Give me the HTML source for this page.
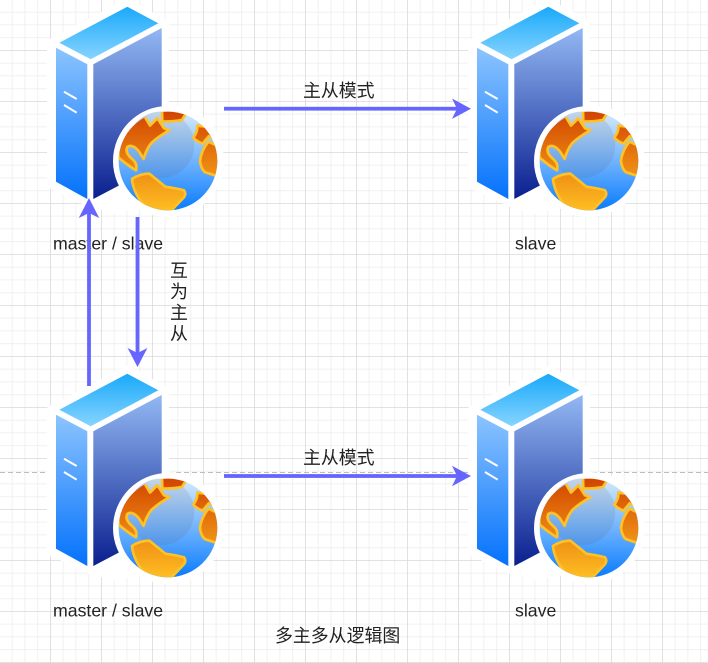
<!DOCTYPE html>
<html><head><meta charset="utf-8">
<style>
html,body{margin:0;padding:0;background:#fff}
body{width:708px;height:663px;overflow:hidden}
svg{display:block}
text{font-family:"Liberation Sans","Noto Sans CJK SC",sans-serif;font-size:17.7px;fill:#222}
text.c{font-size:17.9px}
</style></head>
<body>
<svg width="708" height="663" viewBox="0 0 708 663" xmlns="http://www.w3.org/2000/svg">
<defs>
<pattern id="minor" width="12.75" height="12.75" patternUnits="userSpaceOnUse" x="50" y="50">
  <path d="M12.75 0H0V12.75" fill="none" stroke="#ececec" stroke-width="1.5"/>
</pattern>
<pattern id="major" width="51" height="51" patternUnits="userSpaceOnUse" x="50" y="50">
  <path d="M51 0H0V51" fill="none" stroke="#d6d6d6" stroke-width="1.3"/>
</pattern>
<linearGradient id="gTop" x1="0" y1="0" x2="0" y2="1"><stop offset="0" stop-color="#1aa9fa"/><stop offset="1" stop-color="#86d4ff"/></linearGradient>
<linearGradient id="gLeft" x1="0" y1="0" x2="0" y2="1"><stop offset="0" stop-color="#8cc4ff"/><stop offset="1" stop-color="#0472fb"/></linearGradient>
<linearGradient id="gRight" x1="0" y1="0" x2="0" y2="1"><stop offset="0" stop-color="#93b8f3"/><stop offset="1" stop-color="#0a1f8f"/></linearGradient>
<linearGradient id="gOcean" x1="0" y1="0" x2="0" y2="1"><stop offset="0" stop-color="#d6ebfb"/><stop offset="1" stop-color="#0a7cff"/></linearGradient>
<linearGradient id="gInner" x1="0" y1="0" x2="0" y2="1"><stop offset="0" stop-color="#c4d6e8"/><stop offset="1" stop-color="#4f96ea"/></linearGradient>
<linearGradient id="gLand" gradientUnits="userSpaceOnUse" x1="0" y1="10" x2="0" y2="307"><stop offset="0" stop-color="#d24400"/><stop offset="1" stop-color="#ffbe22"/></linearGradient>
<clipPath id="cg"><circle cx="158" cy="158" r="148"/></clipPath>
<g id="srv">
  <path d="M127.3 2 L166 23 V112 H200 V190 H150 L120 212 L90 204 L50 185 V42 Z" fill="#fff" stroke="#fff" stroke-width="6" stroke-linejoin="round"/>
  <circle cx="168" cy="161" r="56" fill="#fff"/>
  <polygon points="127.3,6.7 158.3,23.3 90.7,59.3 59.3,42.7" fill="url(#gTop)"/>
  <polygon points="56,47.7 87.3,64.3 87.3,199 56,181.7" fill="url(#gLeft)"/>
  <polygon points="93.3,64.3 161.7,28 161.7,163 93.3,199" fill="url(#gRight)"/>
  <path d="M64 91.7 76.7 99M64 105 76.7 112.7" stroke="#fff" stroke-width="2" fill="none"/>
  <circle cx="168" cy="161" r="55" fill="#fff"/>
  <g transform="translate(115.3,108.3) scale(.33333)">
    <circle cx="158" cy="158" r="148" fill="url(#gOcean)"/>
    <circle cx="137" cy="110" r="100" fill="url(#gInner)"/>
    <g clip-path="url(#cg)" fill="url(#gLand)" stroke="#ffc125" stroke-width="8" stroke-linejoin="round">
      <path d="M90 28 L104 52 L126 30 L146 60 L162 66 Q130 84 108 104 Q92 125 85 152 L70 128 Q50 106 36 116 Q28 132 48 150 Q68 165 62 186 Q38 172 10 148 L0 0 L60 0 Z"/>
      <path d="M140 0 L141 40 Q175 40 200 35 L222 0 Z"/>
      <path d="M50 212 Q75 196 102 196 L150 235 Q185 240 206 246 Q214 256 205 268 L160 315 L95 300 Q55 260 50 212 Z"/>
      <path d="M246 52 Q248 70 234 88 Q245 100 262 106 L280 84 L310 100 L310 60 Z"/>
      <path d="M280 100 Q258 125 254 158 Q258 185 270 192 L310 205 L320 120 Z"/>
    </g>
  </g>
</g>
</defs>
<rect width="708" height="663" fill="#fff"/>
<rect width="708" height="663" fill="url(#minor)"/>
<rect width="708" height="663" fill="url(#major)"/>
<line x1="0" y1="472.5" x2="708" y2="472.5" stroke="#bdbdbd" stroke-width="1" stroke-dasharray="5 3"/>

<use href="#srv"/>
<use href="#srv" x="421"/>
<use href="#srv" y="367"/>
<use href="#srv" x="421" y="367"/>

<text x="53" y="249.5">master / slave</text>
<text x="515" y="249.5">slave</text>
<text x="53" y="616.5">master / slave</text>
<text x="515" y="616.5">slave</text>
<text class="c" x="303" y="97">主从模式</text>
<text class="c" x="303" y="464">主从模式</text>
<text class="c" x="275" y="642">多主多从逻辑图</text>
<text class="c" x="170" y="277">互</text>
<text class="c" x="170" y="298">为</text>
<text class="c" x="170" y="319">主</text>
<text class="c" x="170" y="340">从</text>

<g fill="#6666ff" stroke="none">
  <rect x="224" y="106.8" width="236" height="3.8"/>
  <polygon points="471,108.7 452,118.9 457,108.7 452,98.5"/>
  <rect x="224" y="474.1" width="236" height="3.8"/>
  <polygon points="471,476 452,486.2 457,476 452,465.8"/>
  <rect x="87.1" y="208" width="3.8" height="178"/>
  <polygon points="89,198 99.2,218 89,213 78.8,218"/>
  <rect x="135.6" y="217" width="3.8" height="140"/>
  <polygon points="137.5,367 127.6,348 137.5,353 147.4,348"/>
</g>
</svg>
</body></html>
